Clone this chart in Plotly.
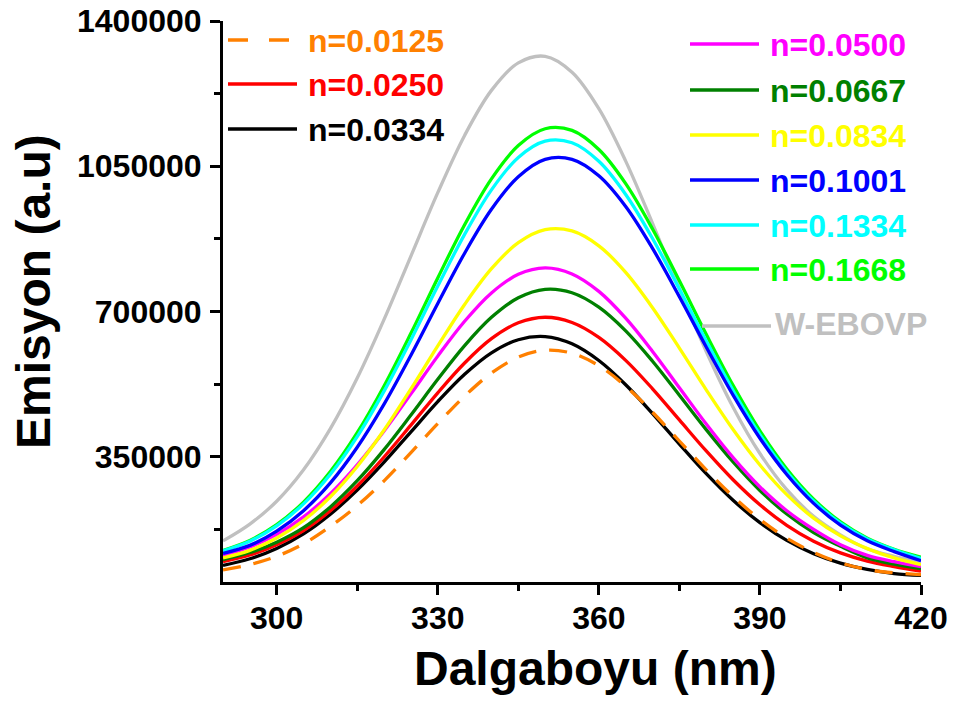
import plotly.graph_objects as go

# ---- data -------------------------------------------------------------
wavelength = [290, 295, 300, 305, 310, 315, 320, 325, 330, 335, 340, 345, 350,
              355, 360, 365, 370, 375, 380, 385, 390, 395, 400, 405, 410, 415, 420]

labels = ["n=0.0125", "n=0.0250", "n=0.0334", "n=0.0500", "n=0.0667",
          "n=0.0834", "n=0.1001", "n=0.1334", "n=0.1668", "W-EBOVP"]

colors = ["#FF8000", "#FF0000", "#000000", "#FF00FF", "#008000",
          "#FFFF00", "#0000FF", "#00FFFF", "#00FF00", "#C0C0C0"]

em_0125 = [77000, 90000, 110000, 140000, 182000, 232000, 291800, 359700, 429800,
           496000, 551500, 589900, 606500, 599300, 569200, 519900, 457200, 387800,
           318400, 254200, 198800, 153700, 119300, 94300, 78000, 70000, 66000]
em_0250 = [97000, 113000, 138000, 172100, 219900, 279400, 349300, 426000, 503900,
           575800, 634400, 672700, 686000, 673500, 637500, 582200, 513600, 438600,
           363800, 294400, 234100, 184700, 146400, 118100, 98300, 85000, 74000]
em_0334 = [88000, 104000, 129000, 163900, 211300, 269500, 336900, 409800, 482600,
           548500, 600300, 631900, 639500, 622000, 581700, 523400, 453900, 380300,
           309000, 244900, 191000, 148200, 116200, 93400, 78200, 68300, 64000]
em_0500 = [111800, 132500, 162800, 205000, 260800, 330300, 411900, 501400, 592400,
           676400, 744700, 789400, 805000, 790400, 748400, 683800, 603700, 516200,
           428800, 347800, 277400, 219800, 175000, 138000, 112000, 97000, 85000]
em_0667 = [102000, 119000, 144000, 179000, 229000, 292100, 367000, 450400, 536400,
           617700, 685800, 733000, 753400, 745200, 710400, 653300, 580100, 498200,
           415200, 337300, 268600, 211800, 167100, 133900, 106000, 91000, 80000]
em_0834 = [106000, 124200, 153900, 196200, 253400, 326400, 414200, 513200, 617000,
           716900, 803100, 865700, 897100, 894000, 858200, 794100, 709000, 611600,
           511100, 415400, 330000, 258500, 201800, 159100, 128500, 106000, 90000]
em_1001 = [117000, 136300, 170700, 219900, 286800, 372700, 476600, 594500, 719200,
           840400, 946200, 1024700, 1066600, 1066600, 1027000, 953000, 852000, 735600,
           614500, 498500, 394500, 307100, 237500, 185000, 147200, 121300, 99500]
em_1334 = [123000, 146300, 183400, 236200, 307600, 398500, 508000, 631500, 761100,
           885700, 993100, 1071200, 1110400, 1106500, 1061800, 981900, 875700, 754300,
           629000, 509500, 403100, 313900, 243100, 189900, 151800, 125800, 105000]
em_1668 = [124000, 148100, 186200, 240600, 314100, 407700, 520400, 647400, 780800,
           909000, 1019600, 1099900, 1140300, 1136300, 1090300, 1008100, 898800, 773800,
           644900, 521900, 412400, 320500, 247700, 192900, 153700, 127000, 108000]
em_webovp = [147000, 187600, 242500, 318300, 417500, 539400, 680800, 833600, 986200,
             1124300, 1232800, 1299100, 1314900, 1276700, 1188800, 1062400, 912400, 754800,
             603600, 469200, 357600, 270500, 206300, 161700, 128000, 110000, 96000]

series = [em_0125, em_0250, em_0334, em_0500, em_0667,
          em_0834, em_1001, em_1334, em_1668, em_webovp]

x_ticks = [300, 330, 360, 390, 420]
y_ticks = [350000, 700000, 1050000, 1400000]

# ---- figure geometry (pixels) -------------------------------------------
W, H = 955, 702
ML, MR, MT, MB = 223, 34, 21, 120
PW, PH = W - ML - MR, H - MT - MB

FONT = "Liberation Sans, Arial, Helvetica, sans-serif"


def fx(px):
    return (px - ML) / PW


def fy(py):
    return (H - MB - py) / PH


fig = go.Figure()

# drawing order: grey reference first, dashed curve last
order = [9, 2, 1, 4, 3, 5, 8, 7, 6, 0]
for i in order:
    fig.add_trace(go.Scatter(
        x=wavelength, y=series[i], mode="lines", name=labels[i],
        line=dict(color=colors[i], width=3.3, shape="spline", smoothing=1.0,
                  dash="18px,13px" if i == 0 else "solid"),
        showlegend=False, hoverinfo="x+y+name",
    ))

# ---- hand-placed legend -------------------------------------------------
shapes = []
annotations = []


def legend_entry(i, x0, x1, y_line, x_text, y_text, dash="solid"):
    shapes.append(dict(type="line", xref="paper", yref="paper",
                       x0=fx(x0), x1=fx(x1), y0=fy(y_line), y1=fy(y_line),
                       line=dict(color=colors[i], width=3.3, dash=dash)))
    annotations.append(dict(xref="paper", yref="paper", x=fx(x_text), y=fy(y_text),
                            xanchor="left", yanchor="middle", showarrow=False,
                            text=labels[i],
                            font=dict(family=FONT, size=32, color=colors[i], weight="bold")))


legend_entry(0, 228, 297, 40, 306, 41, dash="20px,21px")
legend_entry(1, 228, 297, 84, 306, 85)
legend_entry(2, 228, 297, 129, 306, 130)
for k, yy in zip([3, 4, 5, 6, 7, 8], [44, 90, 135, 180, 225, 269]):
    legend_entry(k, 690, 759, yy, 768, yy + 1)
legend_entry(9, 702, 771, 326, 773, 324)

# axis titles
annotations.append(dict(xref="paper", yref="paper", x=fx(595), y=fy(668),
                        xanchor="center", yanchor="middle", showarrow=False,
                        text="Dalgaboyu (nm)",
                        font=dict(family=FONT, size=48, color="black", weight="bold")))
annotations.append(dict(xref="paper", yref="paper", x=fx(33), y=fy(292),
                        xanchor="center", yanchor="middle", showarrow=False,
                        textangle=-90, text="Emisyon (a.u)",
                        font=dict(family=FONT, size=48, color="black", weight="bold")))

tickfont = dict(family=FONT, size=32, color="black", weight="bold")

fig.update_layout(
    width=W, height=H,
    margin=dict(l=ML, r=MR, t=MT, b=MB, pad=0, autoexpand=False),
    paper_bgcolor="white", plot_bgcolor="white",
    shapes=shapes, annotations=annotations,
    xaxis=dict(range=[290, 420], tickmode="array", tickvals=x_ticks,
               ticktext=[str(v) for v in x_ticks], automargin=False,
               showline=True, linecolor="black", linewidth=3,
               ticks="outside", ticklen=10, tickwidth=3, tickcolor="black",
               minor=dict(ticks="outside", ticklen=6, tickwidth=3, tickcolor="black",
                          tickmode="linear", tick0=0, dtick=15, showgrid=False),
               tickfont=tickfont, ticklabelstandoff=-4,
               showgrid=False, zeroline=False, mirror=False),
    yaxis=dict(range=[48000, 1400000], tickmode="array", tickvals=y_ticks,
               ticktext=[str(v) for v in y_ticks], automargin=False,
               showline=True, linecolor="black", linewidth=3,
               ticks="outside", ticklen=10, tickwidth=3, tickcolor="black",
               minor=dict(ticks="outside", ticklen=6, tickwidth=3, tickcolor="black",
                          tickmode="linear", tick0=0, dtick=175000, showgrid=False),
               tickfont=tickfont, ticklabelstandoff=2,
               showgrid=False, zeroline=False, mirror=False),
)

fig.write_html("out.html")
